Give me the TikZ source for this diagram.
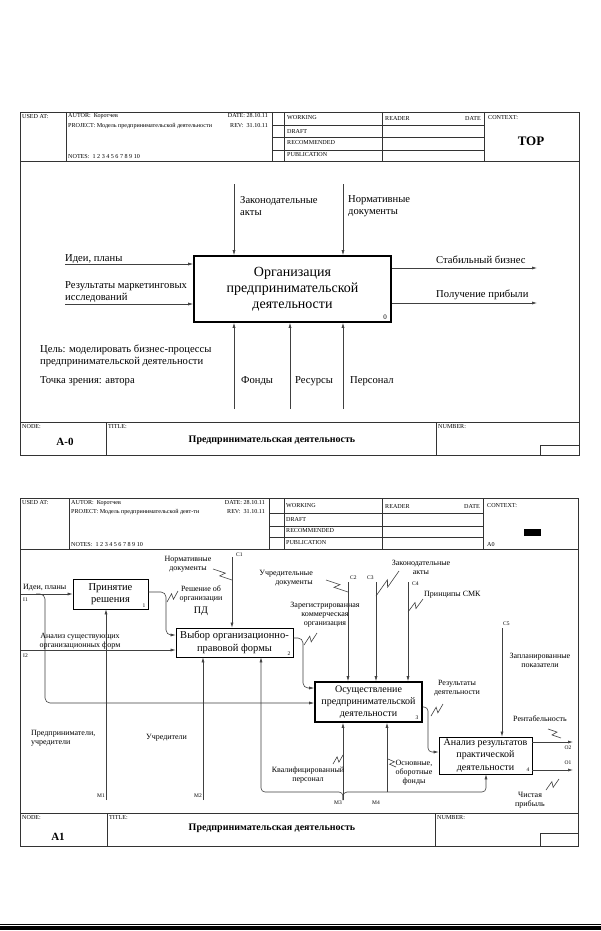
\documentclass[tikz,border=0pt]{standalone}
\usepackage{fontspec}
\setmainfont{Liberation Serif}
\usetikzlibrary{calc,arrows.meta}
\newcommand\squig[2]{\draw[ln] #1 -- ($#1!.58!#2!2.6pt!90:#2$) -- ($#1!.42!#2!2.6pt!-90:#2$) -- #2;}
\begin{document}
\begin{tikzpicture}[x=1pt,y=-1pt,
 frame/.style={draw=black!80,line width=0.8pt},
 hd/.style={font=\fontsize{6.1}{7}\selectfont,inner sep=0pt,anchor=west},
 ln/.style={draw=black!75,line width=0.6pt},
 arr/.style={draw=black!75,line width=0.6pt,-{Latex[length=5pt,width=3pt]}},
 labA/.style={font=\fontsize{10.6}{12}\selectfont,inner sep=0pt,align=left,anchor=west},
 labB/.style={font=\fontsize{8}{9}\selectfont,inner sep=0pt,align=center},
 tag/.style={font=\fontsize{5.5}{6}\selectfont,inner sep=0pt},
 boxA/.style={draw,line width=1.6pt,inner sep=0pt,align=center,font=\fontsize{14}{16}\selectfont},
 boxB/.style={draw,line width=0.7pt,inner sep=0pt,align=center,font=\fontsize{10.5}{12.5}\selectfont},
 boxT/.style={draw,line width=1.6pt,inner sep=0pt,align=center,font=\fontsize{10}{12.3}\selectfont}
]
\useasboundingbox (0,0) rectangle (601,931);
\fill[white] (0,0) rectangle (601,931);

%================ FRAME 1 =================
\draw[frame] (20,112) rectangle (579,455);
\draw[frame] (20,161) -- (579,161);
\foreach \x in {66,272,284,382,484} \draw[frame] (\x,112) -- (\x,161);
\foreach \y in {125,137,150} \draw[frame] (272,\y) -- (484,\y);
\node[hd] (u1) at (22,117) {USED AT:};
\node[hd] (a1) at (68,116) {AUTOR:\ \ Коротчев};
\node[hd,anchor=east] (d1) at (268,116) {DATE: 28.10.11};
\node[hd] (p1) at (68,126) {PROJECT: Модель предпринимательской деятельности};
\node[hd,anchor=east] (r1) at (268,126) {REV:\ \ 31.10.11};
\node[hd] (n1) at (68,157) {NOTES:\ \ 1\ 2\ 3\ 4\ 5\ 6\ 7\ 8\ 9\ 10};
\node[hd] (w1) at (287,118) {WORKING};
\node[hd] (dr1) at (287,131) {DRAFT};
\node[hd] (rc1) at (287,143) {RECOMMENDED};
\node[hd] (pb1) at (287,155) {PUBLICATION};
\node[hd] (rd1) at (385,118) {READER};
\node[hd,anchor=east] (dt1) at (481,118) {DATE};
\node[hd] (cx1) at (488,118) {CONTEXT:};
\node[font=\bfseries\fontsize{13}{14}\selectfont,inner sep=0pt] (top1) at (531,141) {TOP};

% footer
\draw[frame] (20,422) -- (579,422);
\draw[frame] (106,422) -- (106,455);
\draw[frame] (436,422) -- (436,455);
\draw[frame] (540,445) rectangle (579,455);
\node[hd] (nd1) at (22,427) {NODE:};
\node[hd] (tt1) at (108,427) {TITLE:};
\node[hd] (nb1) at (438,427) {NUMBER:};
\node[font=\bfseries\fontsize{11}{12}\selectfont,inner sep=0pt] (A0n) at (65,442) {A-0};
\node[font=\bfseries\fontsize{10}{12}\selectfont,inner sep=0pt] (ti1) at (272,440) {Предпринимательская деятельность};

% body
\node[boxA,minimum width=197pt,minimum height=66pt] (A0) at (292.5,289) {Организация\\предпринимательской\\деятельности};
\node[tag,font=\fontsize{7}{8}\selectfont] (A0num) at (385,317) {0};

\coordinate (c1a) at (234,184);
\coordinate (c2a) at (343,184);
\draw[arr] (c1a) -- (c1a |- A0.north);
\draw[arr] (c2a) -- (c2a |- A0.north);
\node[labA] (lc1) at (240,206) {Законодательные\\акты};
\node[labA] (lc2) at (348,206) {Нормативные\\документы};

\coordinate (i1a) at (65,264);
\coordinate (i2a) at (65,304);
\draw[arr] (i1a) -- (i1a -| A0.west);
\draw[arr] (i2a) -- (i2a -| A0.west);
\node[labA,anchor=base west] (li1) at (65,261) {Идеи, планы};
\node[labA] (li2) at (65,292) {Результаты маркетинговых\\исследований};

\coordinate (o1a) at (537,268);
\coordinate (o2a) at (537,303);
\draw[arr] (o1a -| A0.east) -- (o1a);
\draw[arr] (o2a -| A0.east) -- (o2a);
\node[labA,anchor=base west] (lo1) at (436,263) {Стабильный бизнес};
\node[labA,anchor=base west] (lo2) at (436,297) {Получение прибыли};

\coordinate (m1a) at (234,409);
\coordinate (m2a) at (290,409);
\coordinate (m3a) at (343,409);
\draw[arr] (m1a) -- (m1a |- A0.south);
\draw[arr] (m2a) -- (m2a |- A0.south);
\draw[arr] (m3a) -- (m3a |- A0.south);
\node[labA] (lm1) at (241,381) {Фонды};
\node[labA] (lm2) at (295,381) {Ресурсы};
\node[labA] (lm3) at (350,381) {Персонал};
\node[labA] (goal) at (40,356) {Цель: моделировать бизнес-процессы\\предпринимательской деятельности};
\node[labA] (view) at (40,381) {Точка зрения: автора};

%================ FRAME 2 =================
\draw[frame] (20,498) rectangle (578,846);
\draw[frame] (20,549) -- (578,549);
\foreach \x in {69,269,284,382,483} \draw[frame] (\x,498) -- (\x,549);
\foreach \y in {513,526,537} \draw[frame] (269,\y) -- (483,\y);
\node[hd] (u2) at (22,503) {USED AT:};
\node[hd] (a2) at (71,503) {AUTOR:\ \ Коротчев};
\node[hd,anchor=east] (d2) at (265,503) {DATE: 28.10.11};
\node[hd] (p2) at (71,512) {PROJECT: Модель предпринимательской деят-ти};
\node[hd,anchor=east] (r2) at (265,512) {REV:\ \ 31.10.11};
\node[hd] (n2) at (71,545) {NOTES:\ \ 1\ 2\ 3\ 4\ 5\ 6\ 7\ 8\ 9\ 10};
\node[hd] (w2) at (286,506) {WORKING};
\node[hd] (dr2) at (286,519) {DRAFT};
\node[hd] (rc2) at (286,531) {RECOMMENDED};
\node[hd] (pb2) at (286,543) {PUBLICATION};
\node[hd] (rd2) at (385,506) {READER};
\node[hd,anchor=east] (dt2) at (480,506) {DATE};
\node[hd] (cx2) at (487,506) {CONTEXT:};
\fill (524,529) rectangle (541,536);
\node[hd] (ctx) at (487,544) {A0};

% footer
\draw[frame] (20,813) -- (578,813);
\draw[frame] (107,813) -- (107,846);
\draw[frame] (435,813) -- (435,846);
\draw[frame] (540,833) rectangle (578,846);
\node[hd] (nd2) at (22,818) {NODE:};
\node[hd] (tt2) at (109,818) {TITLE:};
\node[hd] (nb2) at (437,818) {NUMBER:};
\node[font=\bfseries\fontsize{11}{12}\selectfont,inner sep=0pt] (A1n) at (58,837) {A1};
\node[font=\bfseries\fontsize{10}{12}\selectfont,inner sep=0pt] (ti2) at (272,828) {Предпринимательская деятельность};

% boxes
\node[boxB,minimum width=75pt,minimum height=30pt] (B1) at (110.5,594) {Принятие\\решения};
\node[tag] (B1n) at (144,606) {1};
\node[boxB,minimum width=117pt,minimum height=29pt] (B2) at (234.5,642.5) {Выбор организационно-\\правовой формы};
\node[tag] (B2n) at (289,654) {2};
\node[boxT,minimum width=107pt,minimum height=40pt] (B3) at (368.5,702) {Осуществление\\предпринимательской\\деятельности};
\node[tag] (B3n) at (417,718) {3};
\node[boxB,minimum width=93pt,minimum height=37pt,font=\fontsize{10}{12.5}\selectfont] (B4) at (485.5,755.5) {Анализ результатов\\практической\\деятельности};
\node[tag] (B4n) at (528,770) {4};

% I1
\coordinate (I1) at (20.5,594);
\draw[arr] (I1) -- (B1.west);
\node[labB,anchor=west] (lI1) at (23,587.5) {Идеи, планы};
\node[tag,anchor=west] (tI1) at (23,600) {I1};
\coordinate (I1b) at (45,703);
\draw[arr,rounded corners=5pt] (36,594) -- (45,594) -- (I1b) -- (I1b -| B3.west);

% I2
\coordinate (I2) at (20.5,650);
\draw[arr] (I2) -- (I2 -| B2.west);
\node[labB] (lI2) at (80,641) {Анализ существующих\\организационных форм};
\node[tag,anchor=west] (tI2) at (23,656) {I2};

% B1 -> B2
\coordinate (b12) at (166,592);
\coordinate (b12e) at (166,635);
\draw[arr,rounded corners=5pt] (b12 -| B1.east) -- (b12) -- (b12e) -- (b12e -| B2.west);
\node[labB] (l12) at (201,594) {Решение об\\организации};
\node[labB,font=\fontsize{10}{11}\selectfont] (l12b) at (201,611) {ПД};
\squig{(167,602)}{(178,591)}

% C1
\coordinate (C1) at (232,557);
\draw[arr] (C1) -- (C1 |- B2.north);
\node[tag,anchor=west] (tC1) at (236,555) {C1};
\node[labB] (lC1) at (188,564.5) {Нормативные\\документы};
\squig{(213,569)}{(232,580)}

% B2 -> B3
\coordinate (b23) at (303,638);
\coordinate (b23e) at (303,688);
\draw[arr,rounded corners=5pt] (b23 -| B2.east) -- (b23) -- (b23e) -- (b23e -| B3.west);
\node[labB] (l23) at (325,615) {Зарегистрированная\\коммерческая\\организация};
\squig{(304,645)}{(317,633)}

% C2 C3 C4
\coordinate (C2) at (348,582);
\coordinate (C3) at (376,582);
\coordinate (C4) at (408,582);
\draw[arr] (C2) -- (C2 |- B3.north);
\draw[arr] (C3) -- (C3 |- B3.north);
\draw[arr] (C4) -- (C4 |- B3.north);
\node[tag,anchor=west] (tC2) at (350,578) {C2};
\node[tag,anchor=west] (tC3) at (367,578) {C3};
\node[tag,anchor=west] (tC4) at (412,584) {C4};
\node[labB,align=right,anchor=east] (lC2) at (313,578) {Учредительные\\документы};
\squig{(326,580)}{(348,592)}
\node[labB] (lC3) at (421,567) {Законодательные\\акты};
\squig{(399,571)}{(376,596)}
\node[labB,anchor=west] (lC4) at (424,595) {Принципы СМК};
\squig{(423,599)}{(408,612)}

% C5
\coordinate (C5) at (502,628);
\draw[arr] (C5) -- (C5 |- B4.north);
\node[tag,anchor=west] (tC5) at (503,624) {C5};
\node[labB] (lC5) at (540,660) {Запланированные\\показатели};

% B3 -> B4
\coordinate (b34) at (428,707);
\coordinate (b34e) at (428,752);
\draw[arr,rounded corners=4pt] (b34 -| B3.east) -- (b34) -- (b34e) -- (b34e -| B4.west);
\node[labB] (l34) at (457,688) {Результаты\\деятельности};
\squig{(431,716)}{(443,704)}

% outputs
\coordinate (O2) at (573,742);
\coordinate (O1) at (573,770);
\draw[arr] (O2 -| B4.east) -- (O2);
\draw[arr] (O1 -| B4.east) -- (O1);
\node[tag] (tO2) at (568,748) {O2};
\node[tag] (tO1) at (568,763) {O1};
\node[labB] (lO2) at (540,719) {Рентабельность};
\squig{(548,729)}{(561,738)}
\node[labB] (lO1) at (530,800) {Чистая\\прибыль};
\squig{(546,790)}{(559,779)}

% mechanisms
\coordinate (M1) at (106,800);
\coordinate (M2) at (203,800);
\coordinate (M3) at (343,800);
\coordinate (M4) at (387,792);
\draw[arr] (M1) -- (M1 |- B1.south);
\draw[arr] (M2) -- (M2 |- B2.south);
\draw[arr] (M3) -- (M3 |- B3.south);
\draw[arr] (M4) -- (M4 |- B3.south);
\coordinate (hl) at (261,792);
\coordinate (hr) at (486,792);
\draw[arr,rounded corners=4pt] (M3) -- (343,792) -- (hl) -- (hl |- B2.south);
\draw[arr,rounded corners=4pt] (M3) -- (343,792) -- (hr) -- (hr |- B4.south);
\node[tag,anchor=east] (tM1) at (105,796) {M1};
\node[tag,anchor=east] (tM2) at (202,796) {M2};
\node[tag] (tM3) at (338,803) {M3};
\node[tag] (tM4) at (376,803) {M4};
\node[labB] (lM3) at (308,775) {Квалифицированный\\персонал};
\squig{(333,764)}{(343,755)}
\node[labB] (lM4) at (414,773) {Основные,\\оборотные\\фонды};
\squig{(388,759)}{(396,767)}
\node[labB,align=left,anchor=west] (lM1) at (31,738) {Предприниматели,\\учредители};
\node[labB,anchor=west] (lM2) at (146,738) {Учредители};

% bottom rule
\draw[line width=0.8pt] (0,924) -- (601,924);
\fill (0,926) rectangle (601,930);
\end{tikzpicture}
\end{document}
